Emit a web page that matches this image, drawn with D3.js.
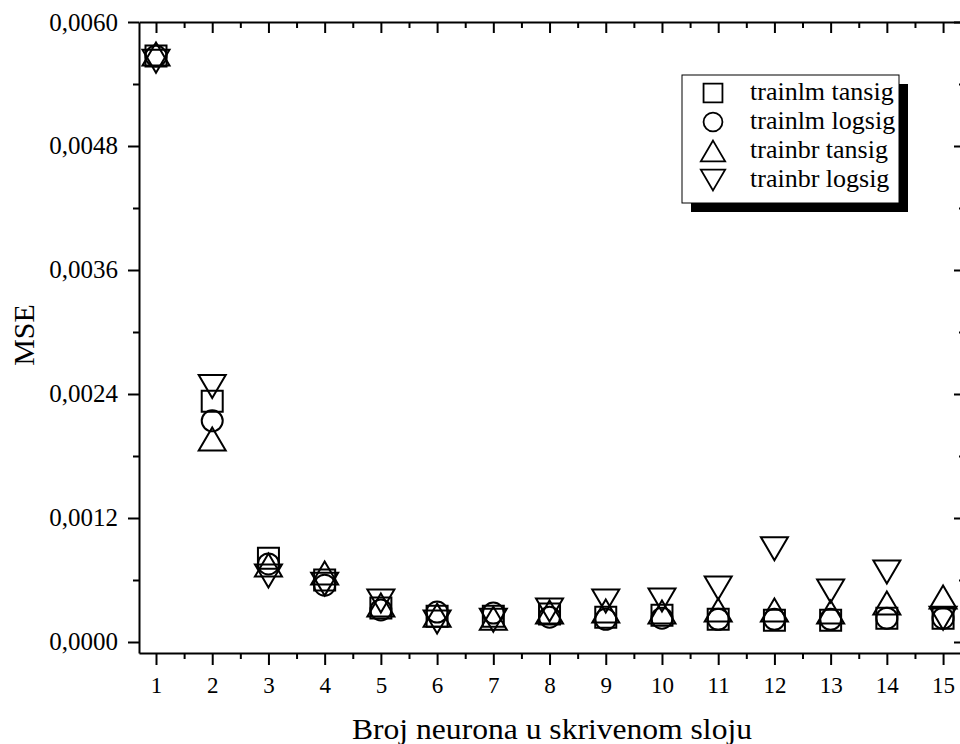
<!DOCTYPE html>
<html><head><meta charset="utf-8">
<script src="https://cdn.jsdelivr.net/npm/d3@7/dist/d3.min.js"></script>
<style>
body{margin:0;background:#fff}
text{font-family:"Liberation Serif","Times New Roman",serif;fill:#000}
</style>
</head><body>
<svg id="chart" width="960" height="744"></svg>
<script>
// ---- data ----
const neurons = [1,2,3,4,5,6,7,8,9,10,11,12,13,14,15];
const trainlmTansig = [0.00567,0.00233,0.00081,0.00060,0.00033,0.00025,0.00025,0.00027,0.00024,0.00026,0.00022,0.00021,0.00021,0.00023,0.00023];
const trainlmLogsig = [0.00567,0.00214,0.000755,0.00055,0.00031,0.00029,0.00028,0.00024,0.00022,0.00023,0.00022,0.00022,0.00022,0.00023,0.00023];
const trainbrTansig = [0.00569,0.001965,0.000745,0.000668,0.000358,0.00026,0.00023,0.00029,0.00030,0.00029,0.00031,0.00031,0.00029,0.000377,0.000435];
const trainbrLogsig = [0.00562,0.002473,0.000639,0.00056,0.000397,0.000194,0.00021,0.00031,0.000397,0.000406,0.000523,0.000903,0.000494,0.000677,0.00023];
const seriesNames = ["trainlm tansig","trainlm logsig","trainbr tansig","trainbr logsig"];
const seriesShapes = ["square","circle","up","down"];
const yTicks = [0,0.0012,0.0024,0.0036,0.0048,0.0060];
const yMinorTicks = [0.0006,0.0018,0.0030,0.0042,0.0054];
const xMinorTicks = [1.5,2.5,3.5,4.5,5.5,6.5,7.5,8.5,9.5,10.5,11.5,12.5,13.5,14.5];
const xLabel = "Broj neurona u skrivenom sloju";
const yLabel = "MSE";

const seriesValues = [trainlmTansig, trainlmLogsig, trainbrTansig, trainbrLogsig];

// ---- layout ----
const svg = d3.select("#chart");
const L = 139, R = 965, T = 22, B = 653;
const x = d3.scaleLinear().domain([0.6976, 15.39]).range([L, R]);
const y = d3.scaleLinear().domain([-0.0001065, 0.0060]).range([B, T]);
const fmt = v => d3.format(".4f")(v).replace(".", ",");

function shapePath(s){
  if (s === "square") return "M-10.5,-10.5H10.5V10.5H-10.5Z";
  if (s === "circle") return "M10.5,0A10.5,10.5 0 1,1 -10.5,0A10.5,10.5 0 1,1 10.5,0Z";
  if (s === "up") return "M0,-11.5L13.5,11.5L-13.5,11.5Z";
  return "M0,11.5L13.5,-11.5L-13.5,-11.5Z";
}

const axisStyle = g => {
  g.selectAll(".domain").attr("stroke","#000").attr("stroke-width",2);
  g.selectAll(".tick line").attr("stroke","#000").attr("stroke-width",2);
};

// bottom
const gb = svg.append("g").attr("transform",`translate(0,${B})`)
  .call(d3.axisBottom(x).tickValues(neurons).tickSize(12).tickPadding(12).tickSizeOuter(0).tickFormat(d3.format("d")));
axisStyle(gb);
gb.selectAll("text").attr("font-size",23).attr("font-family","Liberation Serif");
svg.append("g").attr("transform",`translate(0,${B})`)
  .call(d3.axisBottom(x).tickValues(xMinorTicks).tickSize(6).tickFormat("").tickSizeOuter(0))
  .call(g=>{g.select(".domain").remove(); axisStyle(g);});

// top
const gt = svg.append("g").attr("transform",`translate(0,${T})`)
  .call(d3.axisBottom(x).tickValues(neurons).tickSize(11).tickFormat("").tickSizeOuter(0));
axisStyle(gt);
svg.append("g").attr("transform",`translate(0,${T})`)
  .call(d3.axisBottom(x).tickValues(xMinorTicks).tickSize(6).tickFormat("").tickSizeOuter(0))
  .call(g=>{g.select(".domain").remove(); axisStyle(g);});

// left
const gl = svg.append("g").attr("transform",`translate(${L},0)`)
  .call(d3.axisLeft(y).tickValues(yTicks).tickSize(11).tickPadding(10).tickSizeOuter(0).tickFormat(fmt));
axisStyle(gl);
gl.selectAll("text").attr("font-size",25).attr("font-family","Liberation Serif");
svg.append("g").attr("transform",`translate(${L},0)`)
  .call(d3.axisLeft(y).tickValues(yMinorTicks).tickSize(6).tickFormat("").tickSizeOuter(0))
  .call(g=>{g.select(".domain").remove(); axisStyle(g);});

// right
const gr = svg.append("g").attr("transform",`translate(${R},0)`)
  .call(d3.axisLeft(y).tickValues(yTicks).tickSize(11).tickFormat("").tickSizeOuter(0));
axisStyle(gr);
svg.append("g").attr("transform",`translate(${R},0)`)
  .call(d3.axisLeft(y).tickValues(yMinorTicks).tickSize(6).tickFormat("").tickSizeOuter(0))
  .call(g=>{g.select(".domain").remove(); axisStyle(g);});

// axis titles
svg.append("text").attr("x",(L+R)/2).attr("y",739).attr("text-anchor","middle")
  .attr("font-size",30).attr("textLength",400).attr("lengthAdjust","spacingAndGlyphs").text(xLabel);
svg.append("text").attr("transform",`translate(34,335) rotate(-90)`)
  .attr("text-anchor","middle").attr("font-size",30).text(yLabel);

// data markers
seriesValues.forEach((vals,si)=>{
  svg.append("g").selectAll("path").data(neurons.map((n,i)=>({n,v:vals[i]})))
    .join("path")
    .attr("d", shapePath(seriesShapes[si]))
    .attr("transform", d=>`translate(${x(d.n)},${y(d.v)})`)
    .attr("fill","none").attr("stroke","#000").attr("stroke-width",2);
});

// legend
const lg = svg.append("g");
lg.append("rect").attr("x",691).attr("y",84).attr("width",217).attr("height",128).attr("fill","#000");
lg.append("rect").attr("x",682).attr("y",75).attr("width",217).attr("height",128)
  .attr("fill","#fff").attr("stroke","#000").attr("stroke-width",1);
seriesNames.forEach((name,i)=>{
  const cy = 93 + i*29;
  lg.append("path").attr("d", shapePath(seriesShapes[i]))
    .attr("transform",`translate(713,${cy}) scale(0.9)`)
    .attr("fill","none").attr("stroke","#000").attr("stroke-width",2);
  lg.append("text").attr("x",750).attr("y",cy+7).attr("font-size",26).text(name);
});
</script>
</body></html>
